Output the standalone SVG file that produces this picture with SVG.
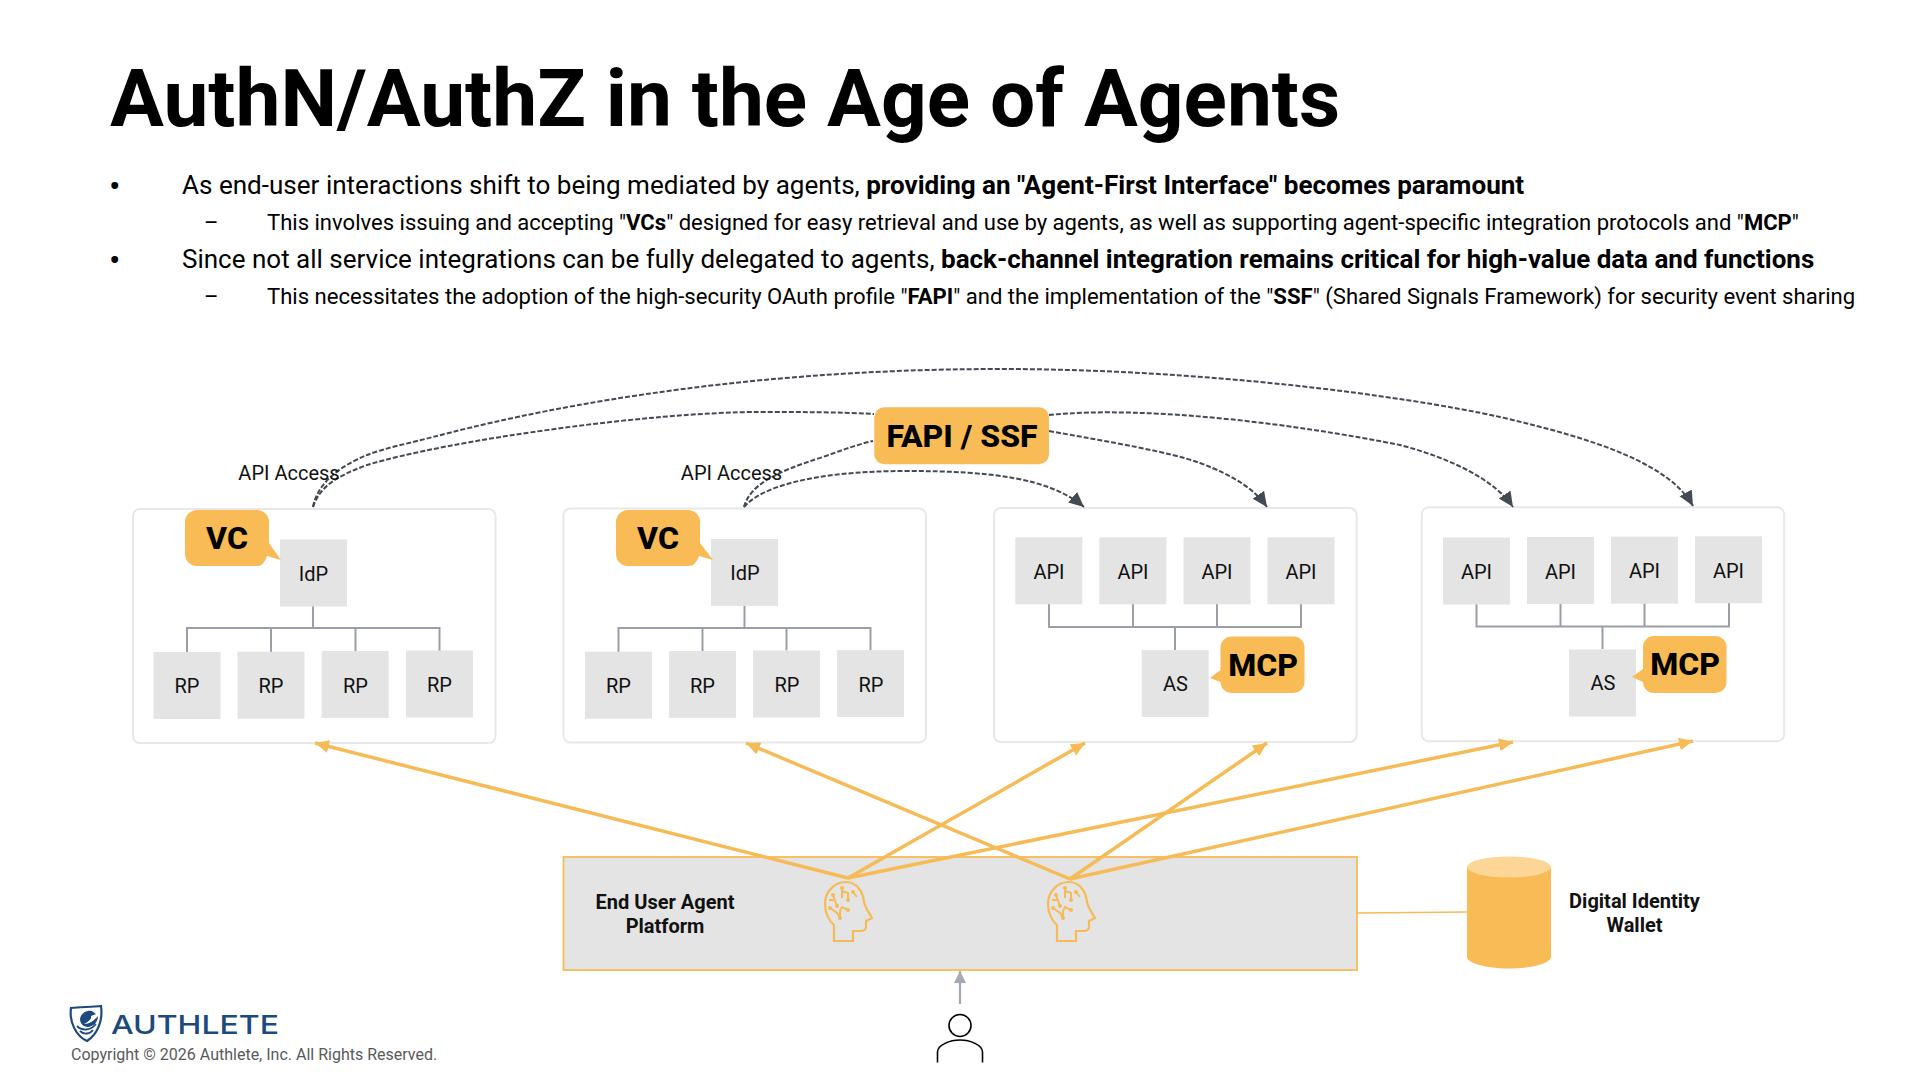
<svg xmlns="http://www.w3.org/2000/svg" xmlns:xlink="http://www.w3.org/1999/xlink" width="1920" height="1080" viewBox="0 0 1920 1080">
<style>
text{font-family:"Roboto","Liberation Sans",sans-serif;fill:#000}
.title{font-size:80.2px;font-weight:700}
.b1{font-size:26.05px}
.b2{font-size:22.05px}
.bu{font-size:34px}
.bd{font-weight:700}
.panel{fill:#fff;stroke:#e8e8e8;stroke-width:2}
.box{fill:#e4e4e4}
.lbl{font-size:20px;text-anchor:middle;fill:#111}
.call{fill:#f9bb55}
.ctxt{font-size:32px;font-weight:800;text-anchor:middle}
.tree{fill:none;stroke:#9a9ea6;stroke-width:2}
.dash{fill:none;stroke:#434a54;stroke-width:2;stroke-dasharray:5 2}
.ya{fill:none;stroke:#f6bb57;stroke-width:3.5}
.mid{text-anchor:middle;font-size:20px;font-weight:700;fill:#111}
.head{fill:none;stroke:#f6bb57;stroke-width:2.2}
.dot{fill:#f6bb57}
</style>
<defs>
<marker id="ad" markerUnits="userSpaceOnUse" markerWidth="18" markerHeight="18" refX="15" refY="7" orient="auto"><path d="M0 0L15 7L0 14Z" fill="#434a54"/></marker>
<marker id="ay" markerUnits="userSpaceOnUse" markerWidth="16" markerHeight="16" refX="14" refY="6.500" orient="auto"><path d="M0 0L14 6.500L0 13Z" fill="#f6bb57"/></marker>
<marker id="ag" markerUnits="userSpaceOnUse" markerWidth="14" markerHeight="14" refX="12" refY="6" orient="auto"><path d="M0 0L12 6L0 12Z" fill="#a5a9b3"/></marker>
<g id="brain">
<path class="head" d="M834 941V925C829 921 825 913 825 904C825 891 835 882 846 882C857 882 863 892 864 902C865 908 870 914 872 918L866 921V927C866 930 863 931 860 931H853V941Z"/>
<path fill="none" stroke="#f6bb57" stroke-width="2" d="M842 888V898M842 891L848 893V900M833 895L837 906M829 900H835M830 908L837 913L840 918M840 918V911L842 907L848 910M853 892L857 897"/>
<circle class="dot" cx="842" cy="888" r="2"/><circle class="dot" cx="848" cy="900" r="2"/><circle class="dot" cx="833" cy="895" r="2"/><circle class="dot" cx="837" cy="906" r="2"/><circle class="dot" cx="830" cy="908" r="2"/><circle class="dot" cx="840" cy="918" r="2"/><circle class="dot" cx="848" cy="910" r="2"/><circle class="dot" cx="853" cy="892" r="2"/>
</g>
</defs>
<rect width="1920" height="1080" fill="#fff"/>
<text class="title" x="110" y="126">AuthN/AuthZ in the Age of Agents</text>
<g id="bullets">
<text class="bu" x="109" y="198">•</text>
<text class="b1" x="182" y="194">As end-user interactions shift to being mediated by agents, <tspan class="bd">providing an "Agent-First Interface" becomes paramount</tspan></text>
<text class="b2" x="204" y="230">–</text>
<text class="b2" x="267" y="230">This involves issuing and accepting "<tspan class="bd">VCs</tspan>" designed for easy retrieval and use by agents, as well as supporting agent-specific integration protocols and "<tspan class="bd">MCP</tspan>"</text>
<text class="bu" x="109" y="272">•</text>
<text class="b1" x="182" y="268" style="font-size:26px">Since not all service integrations can be fully delegated to agents, <tspan class="bd">back-channel integration remains critical for high-value data and functions</tspan></text>
<text class="b2" x="204" y="304">–</text>
<text class="b2" x="267" y="304" style="font-size:22.08px">This necessitates the adoption of the high-security OAuth profile "<tspan class="bd">FAPI</tspan>" and the implementation of the "<tspan class="bd">SSF</tspan>" (Shared Signals Framework) for security event sharing</text>
</g>
<g id="panel1">
<rect class="panel" x="133" y="509" width="362.500" height="234" rx="7"/>
<path class="tree" d="M313 606V628M187 652V628H439.500V651M271 652V628M355.500 651V628"/>
<rect class="box" x="280" y="539.500" width="67" height="67"/><text class="lbl" x="313.500" y="581">IdP</text>
<rect class="box" x="153.500" y="652" width="67" height="67"/><text class="lbl" x="187" y="693">RP</text>
<rect class="box" x="237.500" y="651.700" width="67" height="67"/><text class="lbl" x="271" y="693">RP</text>
<rect class="box" x="321.700" y="651" width="67" height="67"/><text class="lbl" x="355.500" y="693">RP</text>
<rect class="box" x="406" y="650.500" width="67" height="67"/><text class="lbl" x="439.500" y="692">RP</text>
</g>
<g id="vc1"><path class="call" d="M197 510H257A12 12 0 0 1 269 522V543L281 560L267 556Q264 566 257 566H197A12 12 0 0 1 185 554V522A12 12 0 0 1 197 510Z"/><text class="ctxt" x="227" y="549">VC</text></g>
<g id="panel2">
<rect class="panel" x="563.500" y="508.500" width="362.500" height="234" rx="7"/>
<path class="tree" d="M744.500 605.500V628M618.500 652V628H870.500V650M702.500 651V628M786.500 650.500V628"/>
<rect class="box" x="711" y="539" width="67" height="67"/><text class="lbl" x="745" y="580">IdP</text>
<rect class="box" x="585" y="651.700" width="67" height="67"/><text class="lbl" x="618.500" y="693">RP</text>
<rect class="box" x="669" y="651" width="67" height="67"/><text class="lbl" x="702.500" y="693">RP</text>
<rect class="box" x="753" y="650.500" width="67" height="67"/><text class="lbl" x="787" y="692">RP</text>
<rect class="box" x="837" y="650" width="67" height="67"/><text class="lbl" x="871" y="692">RP</text>
</g>
<g id="vc2"><path class="call" d="M628 510H688A12 12 0 0 1 700 522V543L713 560L699 556Q696 566 688 566H628A12 12 0 0 1 616 554V522A12 12 0 0 1 628 510Z"/><text class="ctxt" x="658" y="549">VC</text></g>
<g id="panel3">
<rect class="panel" x="994" y="508" width="362.700" height="234" rx="7"/>
<path class="tree" d="M1049 604V627H1301V604M1133 604V627M1217 604V627M1175 627V650"/>
<rect class="box" x="1015.300" y="537.300" width="67" height="67"/><text class="lbl" x="1049" y="579">API</text>
<rect class="box" x="1099.300" y="537.300" width="67" height="67"/><text class="lbl" x="1133" y="579">API</text>
<rect class="box" x="1183.500" y="537.300" width="67" height="67"/><text class="lbl" x="1217" y="579">API</text>
<rect class="box" x="1267.500" y="537.300" width="67" height="67"/><text class="lbl" x="1301" y="579">API</text>
<rect class="box" x="1141.700" y="650" width="67" height="67"/><text class="lbl" x="1175.500" y="691">AS</text>
</g>
<g id="mcp1"><path class="call" d="M1232 636.500H1293A11 11 0 0 1 1304.500 648V682A11 11 0 0 1 1293 693H1232A11 11 0 0 1 1220.500 682L1210 678L1220.500 670V648A11 11 0 0 1 1232 636.500Z"/><text class="ctxt" x="1263" y="676">MCP</text></g>
<g id="panel4">
<rect class="panel" x="1421.700" y="507.300" width="362.500" height="234" rx="7"/>
<path class="tree" d="M1476.500 604V626.500H1729V603M1560.500 604V626.500M1644.500 603V626.500M1602.500 626.500V649"/>
<rect class="box" x="1443" y="537.500" width="67" height="67"/><text class="lbl" x="1476.500" y="579">API</text>
<rect class="box" x="1527" y="537" width="67" height="67"/><text class="lbl" x="1560.500" y="579">API</text>
<rect class="box" x="1611" y="536.700" width="67" height="67"/><text class="lbl" x="1644.500" y="578">API</text>
<rect class="box" x="1695" y="536.300" width="67" height="67"/><text class="lbl" x="1728.500" y="578">API</text>
<rect class="box" x="1569" y="649.500" width="67" height="67"/><text class="lbl" x="1603" y="690">AS</text>
</g>
<g id="mcp2"><path class="call" d="M1654 636H1715A11 11 0 0 1 1726.500 647V682A11 11 0 0 1 1715 693H1654A11 11 0 0 1 1643 682L1632 677L1643 669V647A11 11 0 0 1 1654 636Z"/><text class="ctxt" x="1685" y="675">MCP</text></g>
<g id="platform">
<rect x="563.500" y="857" width="793.500" height="113" fill="#e4e4e4" stroke="#f6bb57" stroke-width="1.800"/>
<text class="mid" x="665" y="909">End User Agent</text>
<text class="mid" x="665" y="933">Platform</text>
</g>
<g id="connectors">
<path class="dash" d="M313 507C318 480 345 464 367 455C385 448 410 443 433 437C520 414 720 369 1000 369C1200 369 1400 395 1500 417C1600 440 1670 465 1693 506" marker-end="url(#ad)"/>
<path class="dash" d="M313 507C320 485 340 475 367 465C450 440 650 412 760 412C800 412 840 412 874 414"/>
<path class="dash" d="M1049 415C1150 405 1300 425 1400 445C1450 458 1495 480 1513 507" marker-end="url(#ad)"/>
<path class="dash" d="M1049 431C1110 442 1170 452 1200 463C1235 476 1255 490 1267 507" marker-end="url(#ad)"/>
<path class="dash" d="M744 507C750 485 775 472 823 457C840 451 855 445 873 441"/>
<path class="dash" d="M744 507C760 488 810 471 907 471C990 471 1050 478 1084 507" marker-end="url(#ad)"/>
<path class="ya" d="M848 878L315 743" marker-end="url(#ay)"/>
<path class="ya" d="M848 878L1085 743" marker-end="url(#ay)"/>
<path class="ya" d="M848 878L1513 742" marker-end="url(#ay)"/>
<path class="ya" d="M1070 879L746 743" marker-end="url(#ay)"/>
<path class="ya" d="M1070 879L1267 743" marker-end="url(#ay)"/>
<path class="ya" d="M1070 879L1693 741" marker-end="url(#ay)"/>
<path fill="none" stroke="#a5a9b3" stroke-width="2.200" d="M960 1004V971" marker-end="url(#ag)"/>
<path fill="none" stroke="#f6bb57" stroke-width="1.500" d="M1357 913L1467 912"/>
</g>
<g id="apiaccess">
<text class="lbl" x="289" y="480">API Access</text>
<text class="lbl" x="731.500" y="480">API Access</text>
</g>
<use href="#brain" xlink:href="#brain"/>
<use href="#brain" xlink:href="#brain" x="223"/>
<g id="wallet">
<path d="M1467 867V957C1467 963 1486 968.500 1509 968.500C1532 968.500 1551 963 1551 957V867Z" fill="#f9bb55"/>
<ellipse cx="1509" cy="867" rx="42" ry="10.500" fill="#fbd696"/>
<text class="mid" x="1634.500" y="908">Digital Identity</text>
<text class="mid" x="1634.500" y="932">Wallet</text>
</g>
<g id="fapi"><rect class="call" x="874.300" y="407.300" width="174.700" height="57" rx="10"/><text class="ctxt" x="962" y="447">FAPI / SSF</text></g>
<g id="user">
<circle cx="960" cy="1025.500" r="11" fill="#fff" stroke="#000" stroke-width="1.600"/>
<path fill="none" stroke="#000" stroke-width="1.600" d="M937.500 1062.500V1052C937.500 1045 950 1040 960 1040C970 1040 982.500 1045 982.500 1052V1062.500"/>
</g>
<g id="logo">
<path d="M71 1008C80 1007 92 1007 101 1006C103 1020 98 1034 87 1041C76 1036 69 1022 71 1008Z" fill="#fff" stroke="#1d4a7c" stroke-width="2.200"/>
<path d="M80 1019C81 1013 87 1010 92 1011L96 1014L91 1016C92 1019 88 1022 84 1024C89 1024 94 1021 98 1016C98 1022 94 1026 88 1027C84 1027 80 1024 80 1019Z" fill="#1d4a7c"/>
<path d="M77 1026C82 1031 90 1031 96 1024M80 1031C84 1035 90 1034 93 1030" fill="none" stroke="#1d4a7c" stroke-width="1.800"/>
<text x="111" y="1034" font-size="26" font-weight="500" textLength="168" lengthAdjust="spacingAndGlyphs" style="font-family:Inter,'Liberation Sans',sans-serif;fill:#1d4a7c">AUTHLETE</text>
<text x="71" y="1060" font-size="16" style="fill:#595959">Copyright © 2026 Authlete, Inc. All Rights Reserved.</text>
</g>
</svg>
